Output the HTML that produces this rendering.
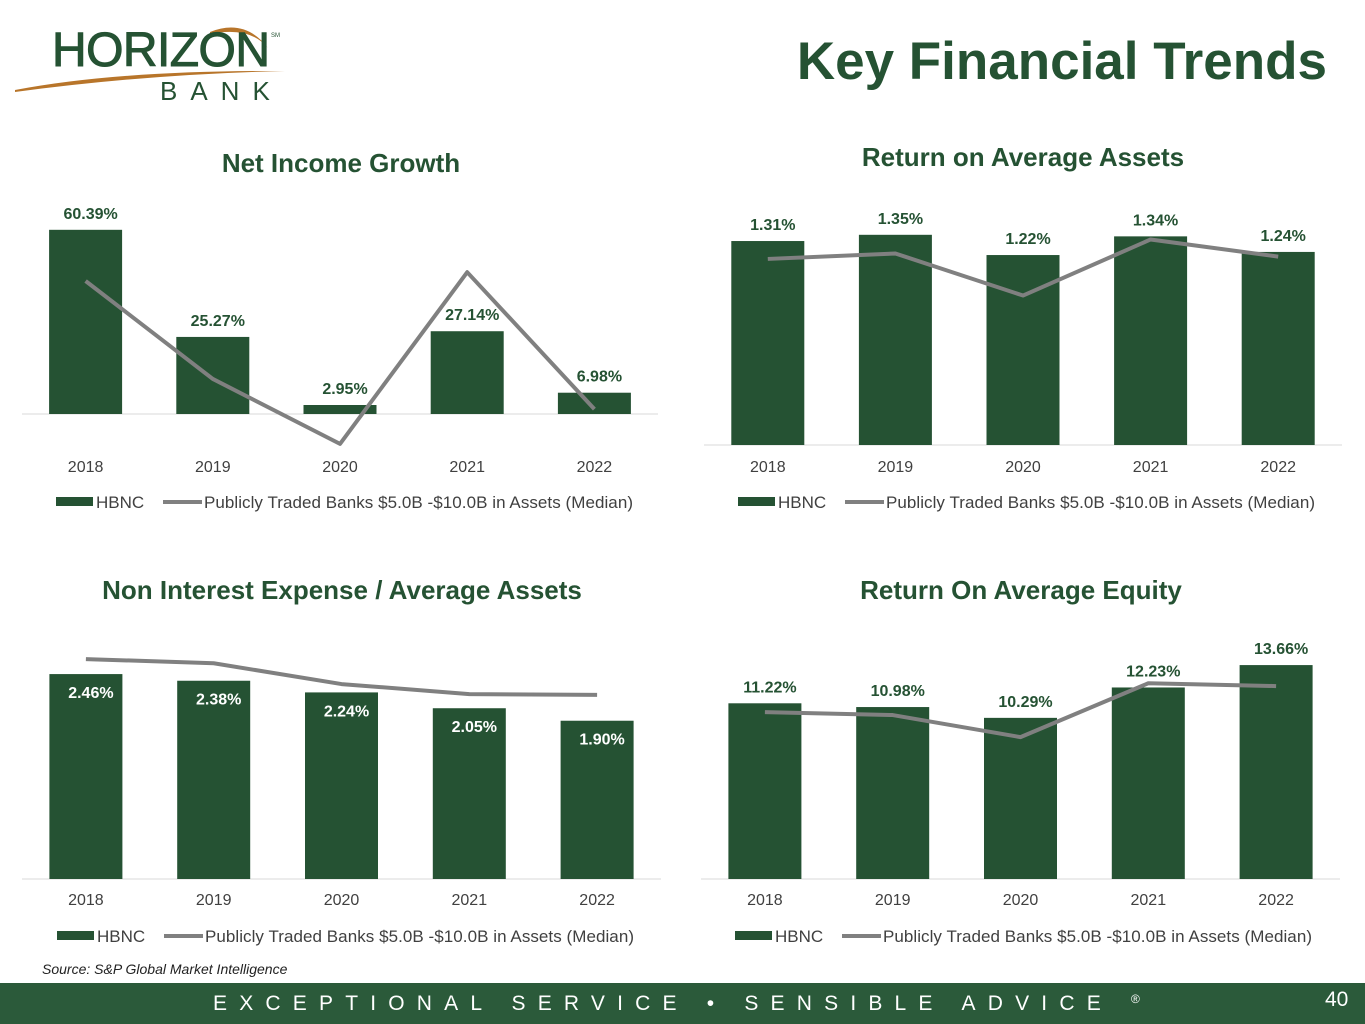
<!DOCTYPE html>
<html><head><meta charset="utf-8"><style>
body{margin:0;width:1365px;height:1024px;background:#fff;font-family:"Liberation Sans",Arial,sans-serif;position:relative;overflow:hidden}
.t{position:absolute;white-space:nowrap}
</style></head><body>
<div style="position:absolute;left:0;top:0;width:300px;height:110px">
<svg width="300" height="110"><path d="M15 90 Q120 70 285 71 Q150 74 15 92Z" fill="#b8752a"/><path d="M210 32 Q245 18 268 48 Q250 26 210 34Z" fill="#b8752a"/>
<text x="52" y="66" font-size="48" fill="#255233" font-family="Liberation Sans" textLength="218" stroke="#255233" stroke-width="1">HORIZON</text>
<text x="160" y="100" font-size="26" fill="#255233" letter-spacing="13">BANK</text>
<text x="271" y="37" font-size="6" fill="#255233">SM</text></svg></div>
<div class="t" style="right:38px;top:31px;font-size:53px;font-weight:bold;color:#255233">Key Financial Trends</div>
<svg id="c" width="1365" height="1024" style="position:absolute;left:0;top:0"></svg>
<div class="t" style="left:42px;top:961px;font-size:14px;font-style:italic;color:#222">Source: S&amp;P Global Market Intelligence</div>
<div style="position:absolute;left:0;top:983px;width:1365px;height:41px;background:#2b5a3a"></div>
<div class="t" style="left:213px;top:992px;font-size:21px;color:#fff;letter-spacing:12.2px">EXCEPTIONAL SERVICE • SENSIBLE ADVICE <span style="font-size:12px;vertical-align:top">®</span></div>
<div class="t" style="left:1325px;top:988px;font-size:21px;color:#fff">40</div>
<script>
const years=["2018","2019","2020","2021","2022"];
const niBars=[60.39,25.27,2.95,27.14,6.98];
const niLine=[43.6,11.5,-9.8,46.5,1.6];
const roaBars=[1.31,1.35,1.22,1.34,1.24];
const roaLine=[1.195,1.23,0.96,1.32,1.21];
const nieBars=[2.46,2.38,2.24,2.05,1.90];
const nieLine=[2.64,2.59,2.34,2.22,2.21];
const roeBars=[11.22,10.98,10.29,12.23,13.66];
const roeLine=[10.66,10.47,9.06,12.5,12.32];
const svg=document.getElementById('c');const NS='http://www.w3.org/2000/svg';
function mk(tag,a,p){const e=document.createElementNS(NS,tag);for(const k in a)e.setAttribute(k,a[k]);(p||svg).appendChild(e);return e;}
function chart(o){
 const g=mk('g',{});
 
 
 const t=mk('text',{x:o.tx,y:o.ty,'font-size':26,'font-weight':'bold',fill:'#255233','text-anchor':'middle'},g);t.textContent=o.title;
 
 
 const ax=mk('line',{x1:o.x0,x2:o.x1,y1:o.base,y2:o.base,stroke:'#d9d9d9','stroke-width':1},g);
 
 
 const step=(o.x1-o.x0)/5;const X=i=>o.x0+step*(i+0.5);const Y=v=>o.base-v*o.scale;
 o.bars.forEach((v,i)=>{
  const r=mk('rect',{x:X(i)-36.5,y:Y(v),width:73,height:v*o.scale,fill:'#255233'},g);
  
  
  const lab=mk('text',{x:X(i)+5,y:o.inside?Y(v)+24:Y(v)-11,'font-size':16,'font-weight':'bold',fill:o.inside?'#fff':'#255233','text-anchor':'middle'},g);
  lab.textContent=v.toFixed(2)+'%';
  
  
  const yl=mk('text',{x:X(i),y:o.base+o.yl,'font-size':16,fill:'#404040','text-anchor':'middle'},g);yl.textContent=years[i];
  
  
 });
 const pl=mk('polyline',{points:o.line.map((v,i)=>X(i)+','+Y(v)).join(' '),fill:'none',stroke:'#808080','stroke-width':4,'stroke-linejoin':'round'},g);
 
 
 const ly=o.base+o.ly;
 const lg=mk('g',{},g);
 
 
 mk('rect',{x:o.lx,y:ly-5,width:37,height:9,fill:'#255233'},lg);
 const a=mk('text',{x:o.lx+40,y:ly+6,'font-size':17,fill:'#404040'},lg);a.textContent='HBNC';
 mk('line',{x1:o.lx+107,x2:o.lx+146,y1:ly,y2:ly,stroke:'#808080','stroke-width':4},lg);
 const b=mk('text',{x:o.lx+148,y:ly+6,'font-size':17,fill:'#404040',textLength:429},lg);b.textContent='Publicly Traded Banks $5.0B -$10.0B in Assets (Median)';
}
chart({name:'net-income-growth-chart',title:'Net Income Growth',tx:341,ty:172,x0:22,x1:658,base:414,scale:3.05,bars:niBars,line:niLine,yl:58,ly:88,lx:56});
chart({name:'roaa-chart',title:'Return on Average Assets',tx:1023,ty:166,x0:704,x1:1342,base:445,scale:155.7,bars:roaBars,line:roaLine,yl:27,ly:57,lx:738});
chart({name:'nie-chart',title:'Non Interest Expense / Average Assets',tx:342,ty:599,x0:22,x1:661,base:879,scale:83.3,bars:nieBars,line:nieLine,yl:26,ly:57,lx:57,inside:true});
chart({name:'roae-chart',title:'Return On Average Equity',tx:1021,ty:599,x0:701,x1:1340,base:879,scale:15.66,bars:roeBars,line:roeLine,yl:26,ly:57,lx:735});
</script>
</body></html>
